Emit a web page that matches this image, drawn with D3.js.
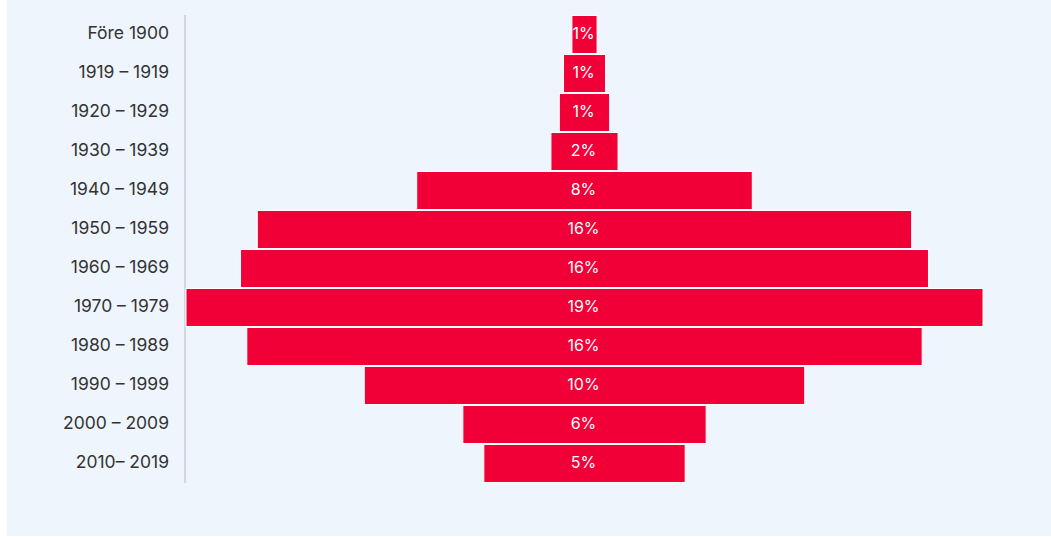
<!DOCTYPE html>
<html>
<head>
<meta charset="utf-8">
<script src="https://cdn.jsdelivr.net/npm/d3@7"></script>
<style>
  body { margin: 0; background: #fff; }
  svg { display: block; }
</style>
</head>
<body>
<div id="chart"></div>
<script>
// decades (building year) and share of buildings, in percent
const periods = ["Före 1900", "1919 – 1919", "1920 – 1929", "1930 – 1939", "1940 – 1949", "1950 – 1959",
  "1960 – 1969", "1970 – 1979", "1980 – 1989", "1990 – 1999", "2000 – 2009", "2010– 2019"];
const shares = [0.6, 1.0, 1.2, 1.6, 8.0, 15.6, 16.4, 19.0, 16.1, 10.5, 5.8, 4.8];
const shareLabels = ["1%", "1%", "1%", "2%", "8%", "16%", "16%", "19%", "16%", "10%", "6%", "5%"];

const W = 1051, H = 537;
const margin = {top: 15, right: 68, bottom: 54, left: 186};

const svg = d3.select("#chart").append("svg")
  .attr("width", W).attr("height", H);

// panel background
svg.append("rect")
  .attr("x", 7).attr("y", 0)
  .attr("width", W - 7).attr("height", H - 1)
  .attr("fill", "#eef5fd");

const cx = margin.left + (W - margin.left - margin.right) / 2;
const half = (W - margin.left - margin.right) / 2;

// symmetric x scale: half width from the centre line
const x = d3.scaleLinear().domain([0, d3.max(shares)]).range([0, half]);
const y = d3.scaleBand().domain(periods).range([margin.top, H - margin.bottom]).padding(0);

// y axis line + labels
svg.append("line")
  .attr("x1", margin.left - 1).attr("x2", margin.left - 1)
  .attr("y1", margin.top).attr("y2", H - margin.bottom)
  .attr("stroke", "#d2d6de").attr("stroke-width", 2);

svg.append("g").selectAll("text")
  .data(periods).enter().append("text")
  .attr("x", margin.left - 17)
  .attr("y", d => y(d) + y.bandwidth() / 2 - 1.5)
  .attr("dy", "0.35em")
  .attr("text-anchor", "end")
  .attr("font-family", "Inter, sans-serif")
  .attr("font-size", "17.5px")
  .attr("fill", "#333")
  .text(d => d);

// bars
svg.append("g").selectAll("rect")
  .data(shares).enter().append("rect")
  .attr("x", d => cx - x(d))
  .attr("y", (d, i) => y(periods[i]) + 0.5)
  .attr("width", d => 2 * x(d))
  .attr("height", y.bandwidth() - 1)
  .attr("fill", "#f00037")
  .attr("stroke", "#fff")
  .attr("stroke-width", 1);

// value labels
svg.append("g").selectAll("text")
  .data(shareLabels).enter().append("text")
  .attr("x", cx - 1)
  .attr("y", (d, i) => y(periods[i]) + y.bandwidth() / 2 - 1)
  .attr("dy", "0.35em")
  .attr("text-anchor", "middle")
  .attr("font-family", "Inter, sans-serif")
  .attr("font-size", "16px")
  .attr("fill", "#fff")
  .text(d => d);
</script>
</body>
</html>
